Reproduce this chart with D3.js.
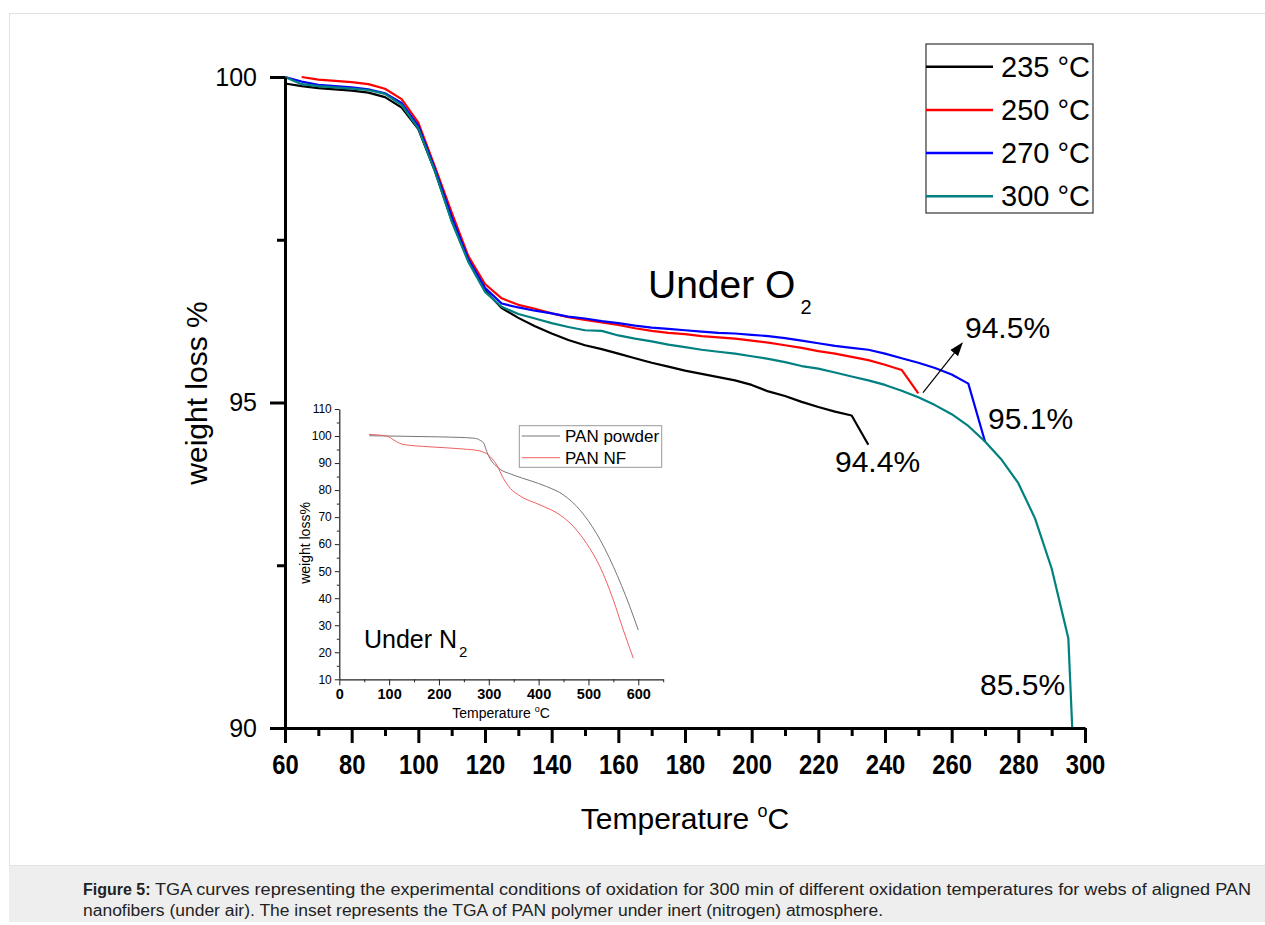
<!DOCTYPE html>
<html>
<head>
<meta charset="utf-8">
<script src="https://cdn.jsdelivr.net/npm/d3@7"></script>
<style>
  body { margin: 0; background: #fff; }
  svg { display: block; font-family: "Liberation Sans", Arial, sans-serif; }
</style>
</head>
<body>
<script>
// main TGA curves (under O2), [temperature °C, weight %]
const series235 = [[60,99.90],[65,99.86],[70,99.83],[75,99.81],[80,99.79],[85,99.76],[90,99.69],[95,99.53],[100,99.20],[105,98.55],[110,97.80],[115,97.18],[120,96.72],[125,96.45],[130,96.30],[135,96.17],[140,96.06],[145,95.96],[150,95.88],[155,95.82],[160,95.75],[165,95.68],[170,95.61],[175,95.55],[180,95.49],[185,95.44],[190,95.39],[195,95.34],[200,95.27],[205,95.17],[210,95.10],[215,95.01],[220,94.93],[225,94.86],[230,94.80],[235,94.35]];
const series250 = [[65,100.00],[70,99.96],[75,99.94],[80,99.92],[85,99.89],[90,99.82],[95,99.66],[100,99.30],[105,98.62],[110,97.92],[115,97.25],[120,96.82],[125,96.60],[130,96.50],[135,96.44],[140,96.37],[145,96.31],[150,96.27],[155,96.23],[160,96.19],[165,96.14],[170,96.10],[175,96.07],[180,96.05],[185,96.02],[190,96.00],[195,95.98],[200,95.95],[205,95.92],[210,95.88],[215,95.84],[220,95.79],[225,95.75],[230,95.70],[235,95.65],[240,95.58],[245,95.50],[250,95.14]];
const series270 = [[60,100.00],[65,99.93],[70,99.88],[75,99.86],[80,99.84],[85,99.81],[90,99.75],[95,99.60],[100,99.25],[105,98.58],[110,97.85],[115,97.20],[120,96.76],[125,96.52],[130,96.46],[135,96.41],[140,96.37],[145,96.32],[150,96.29],[155,96.25],[160,96.22],[165,96.18],[170,96.15],[175,96.13],[180,96.11],[185,96.09],[190,96.07],[195,96.06],[200,96.04],[205,96.02],[210,95.99],[215,95.95],[220,95.91],[225,95.87],[230,95.84],[235,95.81],[240,95.75],[245,95.68],[250,95.61],[255,95.53],[260,95.43],[265,95.29],[270,94.40]];
const series300 = [[60,100.00],[65,99.89],[70,99.86],[75,99.84],[80,99.82],[85,99.80],[90,99.74],[95,99.57],[100,99.21],[105,98.55],[110,97.78],[115,97.16],[120,96.70],[125,96.47],[130,96.36],[135,96.29],[140,96.22],[145,96.16],[150,96.11],[155,96.10],[160,96.03],[165,95.98],[170,95.94],[175,95.89],[180,95.85],[185,95.81],[190,95.78],[195,95.75],[200,95.71],[205,95.67],[210,95.62],[215,95.56],[220,95.52],[225,95.46],[230,95.40],[235,95.34],[240,95.27],[245,95.18],[250,95.08],[255,94.96],[260,94.82],[265,94.64],[270,94.40],[275,94.12],[280,93.76],[285,93.22],[290,92.45],[295,91.38],[300,85.5]];

const seriesNames = ['235 °C', '250 °C', '270 °C', '300 °C'];
const seriesColors = ['#000000', '#ff0000', '#0000ff', '#008080'];

const xMajorTicks = [60,80,100,120,140,160,180,200,220,240,260,280,300];
const xMinorTicks = [70,90,110,130,150,170,190,210,230,250,270,290];
const yMajorTicks = [90,95,100];
const yMinorTicks = [92.5,97.5];

// end-point annotations [label, temperature, weight] (text baseline-left in data coords)
const endLabels = [['94.4%', 225, 93.93], ['94.5%', 264, 95.99], ['95.1%', 270.9, 94.59], ['85.5%', 268.5, 90.51]];
// arrow for the 250 °C end: [from, to]
const arrowPts = [[251.4, 95.15], [263.1, 95.91]];

// inset (under N2)
const insetPowder = [[60,100.1],[100,100.0],[180,99.75],[240,99.5],[270,99.2],[282,98.5],[290,97.3],[296,94.2],[302,91.8],[316,88.7],[349,85.6],[383,83.5],[416,81.3],[450,78.2],[483,72.6],[516,64.0],[550,51.7],[583,36.9],[600,28.2]];
const insetNF = [[60,100.6],[95,100.0],[115,97.9],[128,96.9],[182,96.0],[249,95.2],[282,94.5],[299,93.0],[316,89.3],[329,84.4],[343,80.7],[363,77.8],[403,74.5],[443,70.8],[470,66.5],[496,60.3],[523,51.7],[550,39.3],[570,28.2],[590,17.8]];
const insetNames = ['PAN powder', 'PAN NF'];
const insetColors = ['#777777', '#f06060'];
const insetXTicks = [0,100,200,300,400,500,600];
const insetXMinor = [50,150,250,350,450,550,650];
const insetYTicks = [10,20,30,40,50,60,70,80,90,100,110];
const insetYMinor = [15,25,35,45,55,65,75,85,95,105];

const W = 1265, H = 925;
const svg = d3.select('body').append('svg').attr('width', W).attr('height', H);

// page frame + caption band
svg.append('rect').attr('x', 9.5).attr('y', 13.5).attr('width', 1262).attr('height', 852)
  .attr('fill', '#fff').attr('stroke', '#e2e2e2');
svg.append('rect').attr('x', 9).attr('y', 866).attr('width', 1256).attr('height', 56).attr('fill', '#eeeeee');

// ---- main chart ----
const x = d3.scaleLinear().domain([60, 300]).range([285, 1085]);
const y = d3.scaleLinear().domain([90, 100]).range([728, 77]);

svg.append('clipPath').attr('id', 'plotclip')
  .append('rect').attr('x', 285).attr('y', 60).attr('width', 820).attr('height', 668);

const line = d3.line().x(d => x(d[0])).y(d => y(d[1]));
const allSeries = [series235, series250, series270, series300];

svg.append('g').attr('clip-path', 'url(#plotclip)')
  .selectAll('path').data(allSeries).join('path')
  .attr('d', line)
  .attr('fill', 'none')
  .attr('stroke', (d, i) => seriesColors[i])
  .attr('stroke-width', 2.2)
  .attr('stroke-linejoin', 'round');

// axes
const xMinor = svg.append('g').attr('transform', 'translate(0,728)')
  .call(d3.axisBottom(x).tickValues(xMinorTicks).tickSize(8).tickFormat(''));
const xAxis = svg.append('g').attr('transform', 'translate(0,728)')
  .call(d3.axisBottom(x).tickValues(xMajorTicks).tickSize(15).tickSizeOuter(0).tickPadding(11));
const yMinor = svg.append('g').attr('transform', 'translate(285,0)')
  .call(d3.axisLeft(y).tickValues(yMinorTicks).tickSize(8).tickFormat(''));
const yAxis = svg.append('g').attr('transform', 'translate(285,0)')
  .call(d3.axisLeft(y).tickValues(yMajorTicks).tickSize(15).tickSizeOuter(0).tickPadding(13));

[xMinor, yMinor].forEach(g => g.select('.domain').remove());
[xMinor, xAxis, yMinor, yAxis].forEach(g => {
  g.selectAll('line').attr('stroke', '#000').attr('stroke-width', 3);
  g.select('.domain').attr('stroke', '#000').attr('stroke-width', 3);
});
xAxis.selectAll('text')
  .attr('font-size', 28).attr('font-weight', 'bold').attr('fill', '#000')
  .attr('font-family', '"Liberation Sans", Arial, sans-serif')
  .attr('transform', 'scale(0.85,1)');
yAxis.selectAll('text')
  .attr('font-size', 25).attr('fill', '#000')
  .attr('font-family', '"Liberation Sans", Arial, sans-serif');

// axis titles
const xt = svg.append('text').attr('x', 685).attr('y', 829).attr('text-anchor', 'middle')
  .attr('font-size', 30).attr('fill', '#000');
xt.append('tspan').text('Temperature ');
xt.append('tspan').attr('font-size', 18).attr('dy', -12).text('o');
xt.append('tspan').attr('dy', 12).text('C');

svg.append('text').attr('transform', 'translate(207,393) rotate(-90)')
  .attr('text-anchor', 'middle').attr('font-size', 30).attr('fill', '#000')
  .text('weight loss %');

// Under O2
const o2 = svg.append('text').attr('x', 648).attr('y', 298).attr('font-size', 39).attr('fill', '#000');
o2.append('tspan').text('Under O');
o2.append('tspan').attr('font-size', 20).attr('dy', 16).attr('dx', 5).text('2');

// end labels
svg.selectAll('.endlab').data(endLabels).join('text')
  .attr('class', 'endlab')
  .attr('x', d => x(d[1])).attr('y', d => y(d[2]))
  .attr('font-size', 30).attr('fill', '#000')
  .text(d => d[0]);

// arrow from the 250 °C end toward its label
svg.append('defs').append('marker').attr('id', 'arr')
  .attr('viewBox', '0 0 10 10').attr('refX', 9).attr('refY', 5)
  .attr('markerWidth', 14).attr('markerHeight', 14).attr('markerUnits', 'userSpaceOnUse')
  .attr('orient', 'auto')
  .append('path').attr('d', 'M0,1.5 L10,5 L0,8.5 Z').attr('fill', '#000');
svg.append('line')
  .attr('x1', x(arrowPts[0][0])).attr('y1', y(arrowPts[0][1]))
  .attr('x2', x(arrowPts[1][0])).attr('y2', y(arrowPts[1][1]))
  .attr('stroke', '#000').attr('stroke-width', 1.2)
  .attr('marker-end', 'url(#arr)');

// legend
const lg = svg.append('g');
lg.append('rect').attr('x', 926).attr('y', 44).attr('width', 167).attr('height', 169)
  .attr('fill', '#fff').attr('stroke', '#333').attr('stroke-width', 1.2);
const rows = lg.selectAll('g').data(seriesNames).join('g')
  .attr('transform', (d, i) => `translate(926,${66.7 + i * 43.2})`);
rows.append('line').attr('x1', 0).attr('x2', 67)
  .attr('stroke', (d, i) => seriesColors[i]).attr('stroke-width', 2.5);
rows.append('text').attr('x', 75).attr('y', 10).attr('font-size', 29).attr('fill', '#000').text(d => d);

// ---- inset ----
const ix = d3.scaleLinear().domain([0, 650]).range([339.3, 663.2]);
const iy = d3.scaleLinear().domain([10, 110]).range([679.3, 409]);
const ins = svg.append('g');

const iline = d3.line().x(d => ix(d[0])).y(d => iy(d[1])).curve(d3.curveMonotoneX);
ins.selectAll('path.c').data([insetPowder, insetNF]).join('path')
  .attr('class', 'c').attr('d', iline).attr('fill', 'none')
  .attr('stroke', (d, i) => insetColors[i]).attr('stroke-width', 1);

const ixMinor = ins.append('g').attr('transform', 'translate(0,679.3)')
  .call(d3.axisBottom(ix).tickValues(insetXMinor).tickSize(3).tickFormat(''));
const ixAxis = ins.append('g').attr('transform', 'translate(0,679.3)')
  .call(d3.axisBottom(ix).tickValues(insetXTicks).tickSize(6).tickSizeOuter(0).tickPadding(3));
const iyMinor = ins.append('g').attr('transform', 'translate(339.3,0)')
  .call(d3.axisLeft(iy).tickValues(insetYMinor).tickSize(2.5).tickFormat(''));
const iyAxis = ins.append('g').attr('transform', 'translate(339.3,0)')
  .call(d3.axisLeft(iy).tickValues(insetYTicks).tickSize(4.5).tickSizeOuter(0).tickPadding(3));
[ixMinor, iyMinor].forEach(g => g.select('.domain').remove());
[ixMinor, ixAxis, iyMinor, iyAxis].forEach(g => {
  g.selectAll('line').attr('stroke', '#222').attr('stroke-width', 1);
  g.select('.domain').attr('stroke', '#222').attr('stroke-width', 1.2);
});
ixAxis.selectAll('text').attr('font-size', 14.5).attr('font-weight', 'bold').attr('fill', '#000')
  .attr('font-family', '"Liberation Sans", Arial, sans-serif');
iyAxis.selectAll('text').attr('font-size', 12).attr('fill', '#000')
  .attr('font-family', '"Liberation Sans", Arial, sans-serif');

const ixt = ins.append('text').attr('x', 501).attr('y', 718).attr('text-anchor', 'middle')
  .attr('font-size', 14).attr('fill', '#000');
ixt.append('tspan').text('Temperature ');
ixt.append('tspan').attr('font-size', 9).attr('dy', -6).text('o');
ixt.append('tspan').attr('dy', 6).text('C');
ins.append('text').attr('transform', 'translate(310,543) rotate(-90)')
  .attr('text-anchor', 'middle').attr('font-size', 14).attr('fill', '#000').text('weight loss%');

const n2 = ins.append('text').attr('x', 364).attr('y', 648).attr('font-size', 25).attr('fill', '#000');
n2.append('tspan').text('Under N');
n2.append('tspan').attr('font-size', 15).attr('dy', 9).attr('dx', 2).text('2');

// inset legend
ins.append('rect').attr('x', 519.3).attr('y', 425.7).attr('width', 142.4).attr('height', 41.6)
  .attr('fill', '#fff').attr('stroke', '#999').attr('stroke-width', 1);
const irows = ins.selectAll('g.lr').data(insetNames).join('g').attr('class', 'lr')
  .attr('transform', (d, i) => `translate(521.7,${436 + i * 21.7})`);
irows.append('line').attr('x1', 0).attr('x2', 38.3)
  .attr('stroke', (d, i) => insetColors[i]).attr('stroke-width', 1);
irows.append('text').attr('x', 43.3).attr('y', 6).attr('font-size', 17).attr('fill', '#000').text(d => d);

// caption
const cap1 = svg.append('text').attr('x', 83).attr('y', 895).attr('font-size', 16).attr('fill', '#222');
cap1.append('tspan').attr('font-weight', 'bold').text('Figure 5:');
svg.append('text').attr('x', 155).attr('y', 895).attr('font-size', 16).attr('fill', '#222')
  .attr('textLength', 1096).attr('lengthAdjust', 'spacingAndGlyphs')
  .text('TGA curves representing the experimental conditions of oxidation for 300 min of different oxidation temperatures for webs of aligned PAN');
svg.append('text').attr('x', 83).attr('y', 916).attr('font-size', 16).attr('fill', '#222')
  .attr('textLength', 800).attr('lengthAdjust', 'spacingAndGlyphs')
  .text('nanofibers (under air). The inset represents the TGA of PAN polymer under inert (nitrogen) atmosphere.');
</script>
</body>
</html>
